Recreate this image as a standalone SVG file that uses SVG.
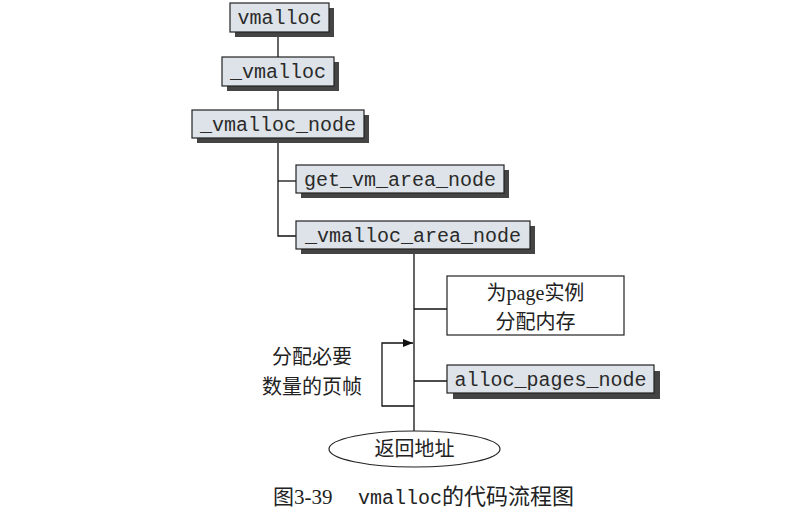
<svg xmlns="http://www.w3.org/2000/svg" width="785" height="514" viewBox="0 0 785 514">
<defs>
<style>
.box{fill:#dde3e8;stroke:#222;stroke-width:1.2}
.shadow{fill:#444}
.code{font-family:"Liberation Mono","DejaVu Sans Mono",monospace;font-size:20px;fill:#2a2a2a;text-anchor:middle}
.cjk{font-family:"Liberation Serif","Noto Sans CJK SC",serif;font-size:20px;fill:#222;text-anchor:middle}
.ln{stroke:#111;stroke-width:1.3;fill:none}
</style>
<marker id="arr" markerWidth="10" markerHeight="8" refX="10" refY="4" orient="auto" markerUnits="userSpaceOnUse">
<path d="M0,0 L10,4 L0,8 Z" fill="#111"/>
</marker>
</defs>
<rect width="785" height="514" fill="#fff"/>
<g id="connectors">
<line class="ln" x1="278" y1="32" x2="278" y2="57"/>
<line class="ln" x1="278" y1="86" x2="278" y2="110"/>
<polyline class="ln" points="278,138 278,236 296,236"/>
<line class="ln" x1="278" y1="181" x2="296" y2="181"/>
<line class="ln" x1="414" y1="249" x2="414" y2="431"/>
<line class="ln" x1="414" y1="309" x2="447" y2="309"/>
<line class="ln" x1="414" y1="381" x2="447" y2="381"/>
<polyline class="ln" points="414,406 382,406 382,343 413,343" marker-end="url(#arr)"/>
</g>
<g id="vmalloc">
<rect class="shadow" x="235" y="8" width="99" height="29"/>
<rect class="box" x="230" y="3" width="99" height="29"/>
<text class="code" x="279.5" y="24">vmalloc</text>
</g>
<g id="_vmalloc">
<rect class="shadow" x="227" y="62" width="112" height="29"/>
<rect class="box" x="222" y="57" width="112" height="29"/>
<text class="code" x="278" y="78">_vmalloc</text>
</g>
<g id="_vmalloc_node">
<rect class="shadow" x="197" y="115" width="172" height="28"/>
<rect class="box" x="192" y="110" width="172" height="28"/>
<text class="code" x="278" y="131">_vmalloc_node</text>
</g>
<g id="get_vm_area_node">
<rect class="shadow" x="301" y="170" width="208" height="28"/>
<rect class="box" x="296" y="165" width="208" height="28"/>
<text class="code" x="400" y="186">get_vm_area_node</text>
</g>
<g id="_vmalloc_area_node">
<rect class="shadow" x="301" y="226" width="234" height="28"/>
<rect class="box" x="296" y="221" width="234" height="28"/>
<text class="code" x="413" y="242">_vmalloc_area_node</text>
</g>
<g id="page_alloc">
<rect x="447" y="276" width="177" height="59" fill="#fff" stroke="#222" stroke-width="1.2"/>
<text class="cjk" x="535.5" y="300">为<tspan font-family="'Liberation Serif',serif">page</tspan>实例</text>
<text class="cjk" x="535.5" y="329">分配内存</text>
</g>
<g id="alloc_pages_node">
<rect class="shadow" x="453" y="371" width="207" height="28"/>
<rect class="box" x="447" y="365" width="207" height="28"/>
<text class="code" x="550.5" y="386">alloc_pages_node</text>
</g>
<g id="loop_label">
<text class="cjk" x="312" y="364">分配必要</text>
<text class="cjk" x="312" y="394">数量的页帧</text>
</g>
<g id="return">
<ellipse cx="414.5" cy="449" rx="85.5" ry="18" fill="#fff" stroke="#222" stroke-width="1.2"/>
<text class="cjk" x="414.5" y="456">返回地址</text>
</g>
<g id="caption">
<text x="273" y="504" font-family="'Liberation Serif','Noto Sans CJK SC',serif" font-size="21" fill="#222">图3-39<tspan x="358" font-family="'Liberation Mono',monospace" font-size="20">vmalloc</tspan><tspan font-family="'Noto Sans CJK SC',serif" font-size="22">的代码流程图</tspan></text>
</g>
</svg>
